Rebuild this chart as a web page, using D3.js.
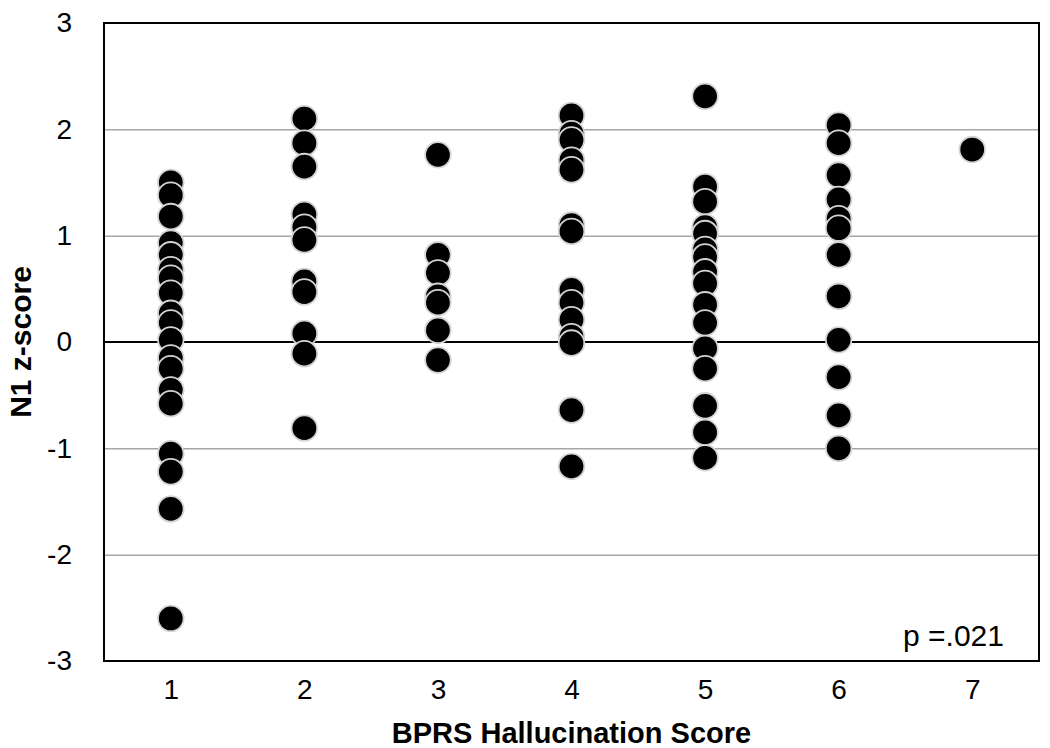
<!DOCTYPE html>
<html>
<head>
<meta charset="utf-8">
<script src="https://cdn.jsdelivr.net/npm/d3@7"></script>
<style>
  body { margin: 0; background: #fff; }
  text { font-family: "Liberation Sans", Arial, sans-serif; }
</style>
</head>
<body>
<div id="chart"></div>
<script>
// data
const scores = [1, 2, 3, 4, 5, 6, 7];
const col1 = [1.5, 1.38, 1.18, 0.93, 0.82, 0.68, 0.6, 0.46, 0.27, 0.18, 0.02, -0.15, -0.25, -0.45, -0.58, -1.05, -1.22, -1.57, -2.6];
const col2 = [2.1, 1.87, 1.65, 1.2, 1.08, 0.96, 0.57, 0.47, 0.08, -0.11, -0.81];
const col3 = [1.76, 0.82, 0.65, 0.43, 0.37, 0.11, -0.17];
const col4 = [2.13, 1.96, 1.9, 1.71, 1.62, 1.1, 1.04, 0.49, 0.37, 0.21, 0.05, -0.01, -0.64, -1.17];
const col5 = [2.31, 1.46, 1.32, 1.08, 1.02, 0.87, 0.8, 0.66, 0.55, 0.35, 0.18, -0.06, -0.25, -0.6, -0.85, -1.09];
const col6 = [2.04, 1.87, 1.57, 1.34, 1.16, 1.07, 0.82, 0.43, 0.02, -0.33, -0.69, -1.0];
const col7 = [1.81];
const yTicks = [-3, -2, -1, 0, 1, 2, 3];
const pLabel = "p =.021";

const columns = [col1, col2, col3, col4, col5, col6, col7];
let points = [];
columns.forEach((c, i) => c.forEach(v => points.push({ x: scores[i], y: v })));

const W = 1050, H = 748;
const margin = { left: 104, right: 11, top: 23, bottom: 87 };
const width = W - margin.left - margin.right;
const height = H - margin.top - margin.bottom;
const font = "'Liberation Sans', Arial, sans-serif";

let svg = d3.select("#chart").append("svg")
  .attr("width", W)
  .attr("height", H);

let chart = svg.append("g")
  .attr("transform", `translate(${margin.left}, ${margin.top})`);

let xScale = d3.scaleLinear().domain([0.5, 7.5]).range([0, width]);
let yScale = d3.scaleLinear().domain([-3, 3]).range([height, 0]);

// grid lines
chart.append("g")
  .attr("class", "grid")
  .call(d3.axisLeft(yScale).tickValues(yTicks.filter(t => t != 0 && t != 3 && t != -3)).tickSize(-width).tickFormat(""))
  .call(g => g.select(".domain").remove())
  .call(g => g.selectAll("line").attr("stroke", "#a6a6a6").attr("stroke-width", 1.5));

// zero line
chart.append("line")
  .attr("x1", 0).attr("x2", width)
  .attr("y1", yScale(0)).attr("y2", yScale(0))
  .attr("stroke", "#000").attr("stroke-width", 2);

// y axis labels (plain hyphen like the original)
chart.append("g")
  .call(d3.axisLeft(yScale).tickValues(yTicks).tickSize(0).tickPadding(32).tickFormat(d => String(d)))
  .call(g => g.select(".domain").remove())
  .call(g => g.selectAll("text").attr("font-size", 28).attr("fill", "#000").style("font-family", font));

// x axis labels
chart.append("g")
  .attr("transform", `translate(0, ${height})`)
  .call(d3.axisBottom(xScale).tickValues(scores).tickSize(0).tickPadding(18).tickFormat(d => String(d)))
  .call(g => g.select(".domain").remove())
  .call(g => g.selectAll("text").attr("font-size", 28).attr("fill", "#000").style("font-family", font));

// points
chart.append("g")
  .selectAll("circle")
  .data(points)
  .join("circle")
  .attr("cx", d => xScale(d.x))
  .attr("cy", d => yScale(d.y))
  .attr("r", 12.8)
  .attr("fill", "#000")
  .attr("stroke", "#d4d4d4")
  .attr("stroke-width", 1.8);

// frame
chart.append("rect")
  .attr("x", 0).attr("y", 0)
  .attr("width", width).attr("height", height)
  .attr("fill", "none")
  .attr("stroke", "#000")
  .attr("stroke-width", 2);

// p value
chart.append("text")
  .attr("x", width - 35)
  .attr("y", height - 15)
  .attr("text-anchor", "end")
  .attr("font-size", 30)
  .text(pLabel);

// titles
svg.append("text")
  .attr("x", margin.left + width / 2)
  .attr("y", 743)
  .attr("text-anchor", "middle")
  .attr("font-size", 29)
  .attr("font-weight", "bold")
  .text("BPRS Hallucination Score");

svg.append("text")
  .attr("transform", `translate(31, ${margin.top + yScale(0)}) rotate(-90)`)
  .attr("text-anchor", "middle")
  .attr("font-size", 30)
  .attr("font-weight", "bold")
  .text("N1 z-score");
</script>
</body>
</html>
